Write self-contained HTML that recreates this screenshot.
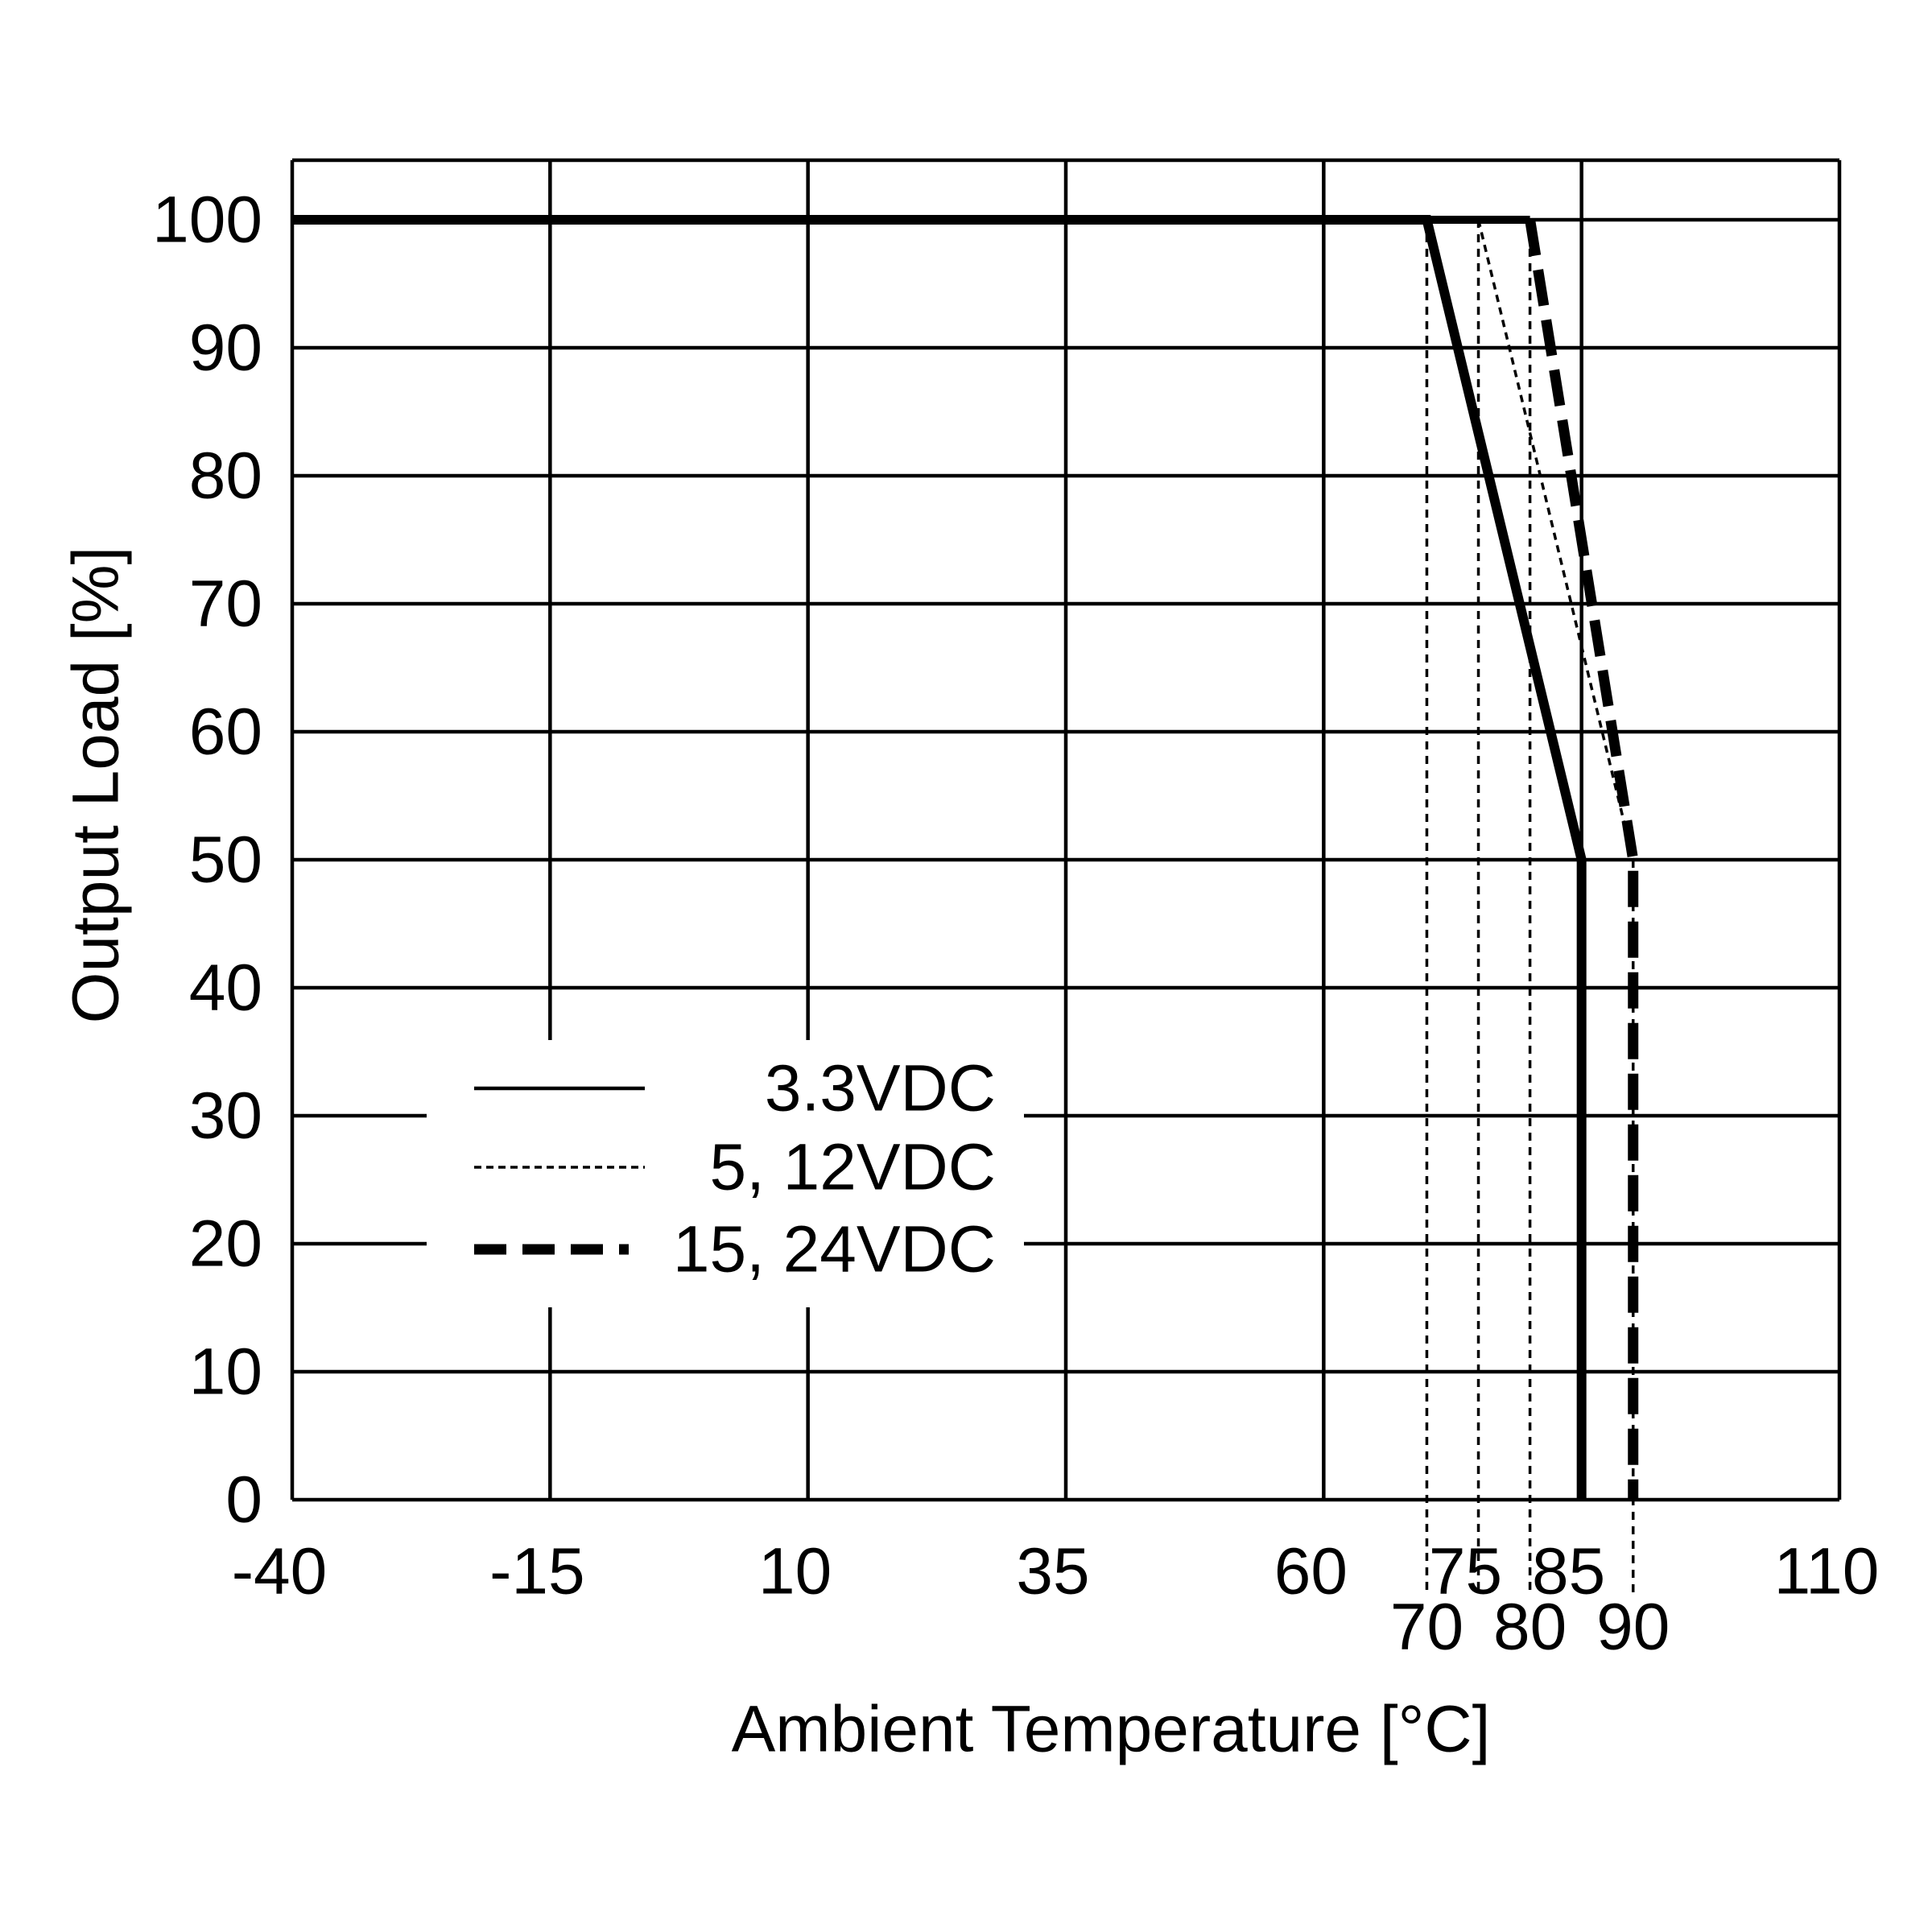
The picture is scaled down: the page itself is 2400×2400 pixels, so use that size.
<!DOCTYPE html>
<html><head><meta charset="utf-8"><style>
html,body{margin:0;padding:0;background:#fff}
svg{display:block}
text{font-family:"Liberation Sans",Arial,sans-serif;fill:#000}
</style></head><body>
<svg id="chart" width="2400" height="2400" viewBox="0 0 2400 2400" xmlns="http://www.w3.org/2000/svg">
<rect x="0" y="0" width="2400" height="2400" fill="#fff"/>
<g id="grid"></g>
<g id="refs"></g>
<g id="series"></g>
<g id="legend"></g>
<g id="labels"></g>
<text x="119" y="975" font-size="82" text-anchor="middle" dominant-baseline="central" transform="rotate(-90 119 975)">Output Load [%]</text>
<text x="1380" y="2148" font-size="82" text-anchor="middle" dominant-baseline="central">Ambient Temperature [°C]</text>
</svg>
<script>
const xGridTicks = [-40, -15, 10, 35, 60, 85, 110];
const xLabelsRow1 = [-40, -15, 10, 35, 60, 75, 85, 110];
const xLabelsRow2 = [70, 80, 90];
const yTicks = [0, 10, 20, 30, 40, 50, 60, 70, 80, 90, 100];
const refTemps = [70, 75, 80, 90];
const refTops = [100, 100, 100, 50];
const seriesNames = ["3.3VDC", "5, 12VDC", "15, 24VDC"];
const s33x = [-40, 70, 85, 85];
const s33y = [100, 100, 50, 0];
const s512x = [-40, 75, 90];
const s512y = [100, 100, 50];
const s1524x = [-40, 80, 90, 90];
const s1524y = [100, 100, 50, 0];

const NS = "http://www.w3.org/2000/svg";
const PL = 363, PR = 2285, PT = 199, PB = 1863;
const xMin = -40, xMax = 110;
function X(v){ return PL + (v - xMin) / (xMax - xMin) * (PR - PL); }
function Y(v){ return PB - v * 15.9; }
function mk(tag, attrs, parent){
  const e = document.createElementNS(NS, tag);
  for (const k in attrs) e.setAttribute(k, attrs[k]);
  parent.appendChild(e);
  return e;
}
const gridG = document.getElementById('grid');
const refsG = document.getElementById('refs');
const seriesG = document.getElementById('series');
const legendG = document.getElementById('legend');
const labelsG = document.getElementById('labels');

xGridTicks.forEach(v => {
  const l = mk('line', {x1: X(v), x2: X(v), y1: PT, y2: PB, stroke: '#000', 'stroke-width': 4.5}, gridG);
  
  
});
yTicks.forEach(v => {
  const l = mk('line', {x1: PL, x2: PR, y1: Y(v), y2: Y(v), stroke: '#000', 'stroke-width': 4.5}, gridG);
  
  
});
const topBorder = mk('line', {x1: PL, x2: PR, y1: PT, y2: PT, stroke: '#000', 'stroke-width': 4.5}, gridG);



refTemps.forEach((v, i) => {
  const l = mk('line', {x1: X(v), x2: X(v), y1: Y(refTops[i]), y2: 1983, stroke: '#000', 'stroke-width': 3.5, 'stroke-dasharray': '10 8'}, refsG);
  
  
});

function pts(xs, ys, a, b){ const o = []; for (let i = a; i <= b; i++) o.push(X(xs[i]) + ',' + Y(ys[i])); return o.join(' '); }
const p512 = mk('polyline', {points: pts(s512x, s512y, 1, s512x.length - 1), fill: 'none', stroke: '#000', 'stroke-width': 3.5, 'stroke-dasharray': '9 7'}, seriesG);


const p1524flat = mk('polyline', {points: pts(s1524x, s1524y, 0, 1), fill: 'none', stroke: '#000', 'stroke-width': 10}, seriesG);


const p1524 = mk('polyline', {points: pts(s1524x, s1524y, 1, s1524x.length - 1), fill: 'none', stroke: '#000', 'stroke-width': 13, 'stroke-dasharray': '45 18'}, seriesG);


const p33 = mk('polyline', {points: pts(s33x, s33y, 0, s33x.length - 1), fill: 'none', stroke: '#000', 'stroke-width': 12}, seriesG);



const lb = mk('rect', {x: 530, y: 1292, width: 742, height: 332, fill: '#fff'}, legendG);


const legY = [1352, 1450, 1552];
const legStyles = [{w: 4.5, d: 'none', x2: 801}, {w: 3.5, d: '9 6', x2: 801}, {w: 13, d: '40 20', x2: 781}];
seriesNames.forEach((n, i) => {
  const l = mk('line', {x1: 589, x2: legStyles[i].x2, y1: legY[i], y2: legY[i], stroke: '#000', 'stroke-width': legStyles[i].w, 'stroke-dasharray': legStyles[i].d}, legendG);
  
  
  const t = mk('text', {x: 1237, y: legY[i], 'font-size': 82, 'text-anchor': 'end', 'dominant-baseline': 'central'}, legendG);
  t.textContent = n;
  
  
});

yTicks.forEach(v => {
  const t = mk('text', {x: 326, y: Y(v), 'font-size': 82, 'text-anchor': 'end', 'dominant-baseline': 'central'}, labelsG);
  t.textContent = v;
  
  
});
xLabelsRow1.forEach(v => {
  const t = mk('text', {x: X(v) - 16, y: 1952, 'font-size': 82, 'text-anchor': 'middle', 'dominant-baseline': 'central'}, labelsG);
  t.textContent = v;
  
  
});
xLabelsRow2.forEach(v => {
  const t = mk('text', {x: X(v), y: 2021, 'font-size': 82, 'text-anchor': 'middle', 'dominant-baseline': 'central'}, labelsG);
  t.textContent = v;
  
  
});
</script>
</body></html>
